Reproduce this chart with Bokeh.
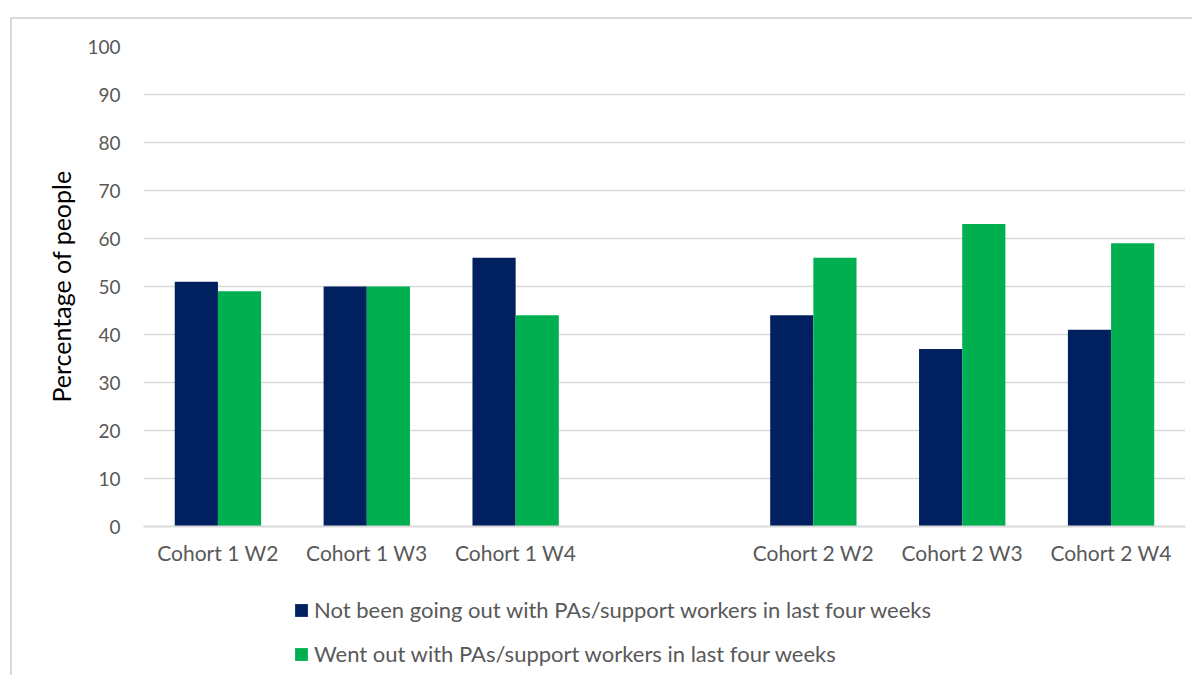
from bokeh.plotting import figure
from bokeh.layouts import column
from bokeh.models import ColumnDataSource, FactorRange, Range1d, Legend, LegendItem, SingleIntervalTicker
from bokeh.transform import dodge
from bokeh.embed import file_html
from bokeh.resources import INLINE

# ---- data ----
slots = ["Cohort 1 W2", "Cohort 1 W3", "Cohort 1 W4", " ", "Cohort 2 W2", "Cohort 2 W3", "Cohort 2 W4"]
categories = ["Cohort 1 W2", "Cohort 1 W3", "Cohort 1 W4", "Cohort 2 W2", "Cohort 2 W3", "Cohort 2 W4"]
not_going_out = [51, 50, 56, 44, 37, 41]
went_out = [49, 50, 44, 56, 63, 59]
series_names = ["Not been going out with PAs/support workers in last four weeks",
                "Went out with PAs/support workers in last four weeks"]

FONT = "Lato"
GREY = "#595959"
NAVY = "#002060"
GREEN = "#00B050"
BORDER = "2px solid #d9d9d9"

src = ColumnDataSource(dict(cat=categories, a=not_going_out, b=went_out))

p = figure(width=1182, height=558, x_range=FactorRange(factors=slots, range_padding=0),
           y_range=Range1d(0, 100), output_backend="svg", toolbar_location=None,
           min_border_left=131, min_border_right=9, min_border_top=27, min_border_bottom=51)
p.margin = (17, 0, 0, 10)
p.styles = {"border-top": BORDER, "border-left": BORDER}
p.outline_line_color = None

r1 = p.vbar(x=dodge("cat", -0.145, range=p.x_range), top="a", width=0.29, source=src,
            fill_color=NAVY, line_color=None)
r2 = p.vbar(x=dodge("cat", 0.145, range=p.x_range), top="b", width=0.29, source=src,
            fill_color=GREEN, line_color=None)

p.xgrid.grid_line_color = None
p.ygrid.grid_line_color = "#d9d9d9"
p.ygrid.grid_line_width = 1.5
p.yaxis.ticker = SingleIntervalTicker(interval=10)
p.yaxis.axis_line_color = None
p.yaxis.major_tick_line_color = None
p.yaxis.minor_tick_line_color = None
p.yaxis.major_label_text_font = FONT
p.yaxis.major_label_text_font_size = "19px"
p.yaxis.major_label_text_color = GREY
p.yaxis.major_label_standoff = 17
p.yaxis.axis_label = "Percentage of people"
p.yaxis.axis_label_text_font = FONT
p.yaxis.axis_label_text_font_size = "25px"
p.yaxis.axis_label_text_font_style = "normal"
p.yaxis.axis_label_text_color = "#000000"
p.yaxis.axis_label_standoff = 8

p.xaxis.axis_line_color = "#d9d9d9"
p.xaxis.axis_line_width = 2
p.xaxis.major_tick_line_color = None
p.xaxis.minor_tick_line_color = None
p.xaxis.major_label_text_font = FONT
p.xaxis.major_label_text_font_size = "21px"
p.xaxis.major_label_text_color = GREY
p.xaxis.major_label_standoff = 7

# legend panel as a second figure underneath (frames are aligned by the column)
lf = figure(width=1182, height=100, x_range=Range1d(0, 1), y_range=Range1d(0, 1),
            output_backend="svg", toolbar_location=None, x_axis_type=None, y_axis_type=None,
            min_border=0)
lf.margin = (0, 0, 0, 10)
lf.styles = {"border-left": BORDER}
lf.outline_line_color = None
lf.xgrid.grid_line_color = None
lf.ygrid.grid_line_color = None
# zero-height proxies, used only for the legend swatches
l1 = lf.vbar(x=[0.5], top=[0], bottom=[0], width=0.01, fill_color=NAVY, line_color=None)
l2 = lf.vbar(x=[0.5], top=[0], bottom=[0], width=0.01, fill_color=GREEN, line_color=None)

legend = Legend(items=[LegendItem(label=series_names[0], renderers=[l1]),
                       LegendItem(label=series_names[1], renderers=[l2])],
                location=(150, 8), orientation="vertical",
                border_line_color=None, background_fill_alpha=0,
                padding=0, margin=0, spacing=17,
                glyph_width=16, glyph_height=16, label_standoff=5,
                label_text_font=FONT, label_text_font_size="22px", label_text_color=GREY)
lf.add_layout(legend, "center")

layout = column(p, lf, spacing=0)
open("out.html", "w").write(file_html(layout, INLINE))
